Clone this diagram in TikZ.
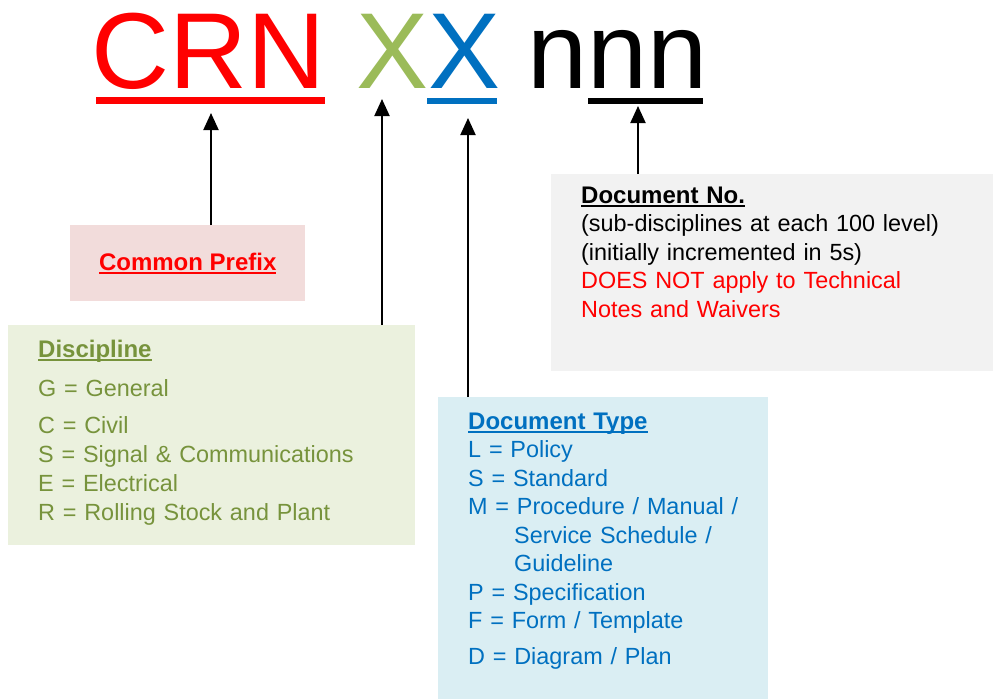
\documentclass[tikz,border=0pt]{standalone}
\usepackage{fontspec}
\setmainfont{Liberation Sans}
\usepackage{xcolor}
\usepackage{tikz}
\usetikzlibrary{arrows.meta}

\definecolor{crnred}{HTML}{FF0000}
\definecolor{xgreen}{HTML}{9BBB59}
\definecolor{discgreen}{HTML}{77933C}
\definecolor{typeblue}{HTML}{0070C0}
\definecolor{prefixfill}{HTML}{F2DCDB}
\definecolor{discfill}{HTML}{EBF1DE}
\definecolor{typefill}{HTML}{DAEEF3}
\definecolor{nofill}{HTML}{F2F2F2}

% underlined heading
\newcommand{\hdul}[1]{\setbox0=\hbox{\fontsize{24}{28}\selectfont\bfseries #1}\leavevmode\rlap{\rule[-3.5pt]{\wd0}{1.5pt}}\box0}

\begin{document}
\begin{tikzpicture}[
    x=1pt, y=-1pt,
    title/.style={anchor=base west, inner sep=0pt, font=\fontsize{108}{120}\selectfont},
    box/.style={anchor=north west, inner sep=0pt, minimum width=#1},
    listtext/.style={anchor=base west, inner sep=0pt, text width=400pt, align=left},
    arr/.style={line width=2pt, -{Triangle[length=17pt,width=15pt]}}
  ]
  \useasboundingbox (0,0) rectangle (993,699);

  % code letters
  \node[title, text=crnred] (crn) at (91,88) {CRN};
  \node[title, text=xgreen] (xg) at (356,88) {X};
  \node[title, text=typeblue] (xb) at (428,88) {X};
  \node[title] (nnn) at (527,88) {nnn};
  \draw[crnred, line width=7pt] (96,100.5) -- (325,100.5);
  \draw[typeblue, line width=6pt] (427,100.5) -- (497,100.5);
  \draw[black, line width=6pt] (588,101) -- (703,101);

  % boxes
  \node[box=235pt, minimum height=76pt, fill=prefixfill] (prefix) at (70,225) {};
  \node[box=407pt, minimum height=220pt, fill=discfill] (disc) at (8,325) {};
  \node[box=330pt, minimum height=302pt, fill=typefill] (type) at (438,397) {};
  \node[box=442pt, minimum height=197pt, fill=nofill] (docno) at (551,174) {};

  % box texts
  \node[inner sep=0pt, text=crnred] (prefixtext) at (prefix.center) {\hdul{Common Prefix}};
  \node[listtext, text=discgreen, font=\fontsize{23.4}{29}\selectfont] (disctext) at (38,357)
    {\hdul{Discipline}\\[10pt]
     G = General\\[8pt]
     C = Civil\\
     S = Signal \& Communications\\
     E = Electrical\\
     R = Rolling Stock and Plant};
  \node[listtext, text width=300pt, text=typeblue, font=\fontsize{23.4}{28.5}\selectfont] (typetext) at (468,429)
    {\hdul{Document Type}\\
     L = Policy\\
     S = Standard\\
     M = Procedure / Manual /\\
     \hspace*{46pt}Service Schedule /\\
     \hspace*{46pt}Guideline\\
     P = Specification\\
     F = Form / Template\\[7.5pt]
     D = Diagram / Plan};
  \node[listtext, font=\fontsize{23.4}{28.5}\selectfont] (docnotext) at (581,203)
    {\hdul{Document No.}\\
     (sub-disciplines at each 100 level)\\
     (initially incremented in 5s)\\
     \textcolor{crnred}{DOES NOT apply to Technical}\\
     \textcolor{crnred}{Notes and Waivers}};

  % arrow ends
  \coordinate (tipcrn) at (211,113);
  \coordinate (tipxg) at (382,99);
  \coordinate (tipxb) at (468,118);
  \coordinate (tipnnn) at (638,106);

  \draw[arr] (prefix.north -| tipcrn) -- (tipcrn);
  \draw[arr] (disc.north -| tipxg) -- (tipxg);
  \draw[arr] (type.north -| tipxb) -- (tipxb);
  \draw[arr] (docno.north -| tipnnn) -- (tipnnn);
\end{tikzpicture}
\end{document}
